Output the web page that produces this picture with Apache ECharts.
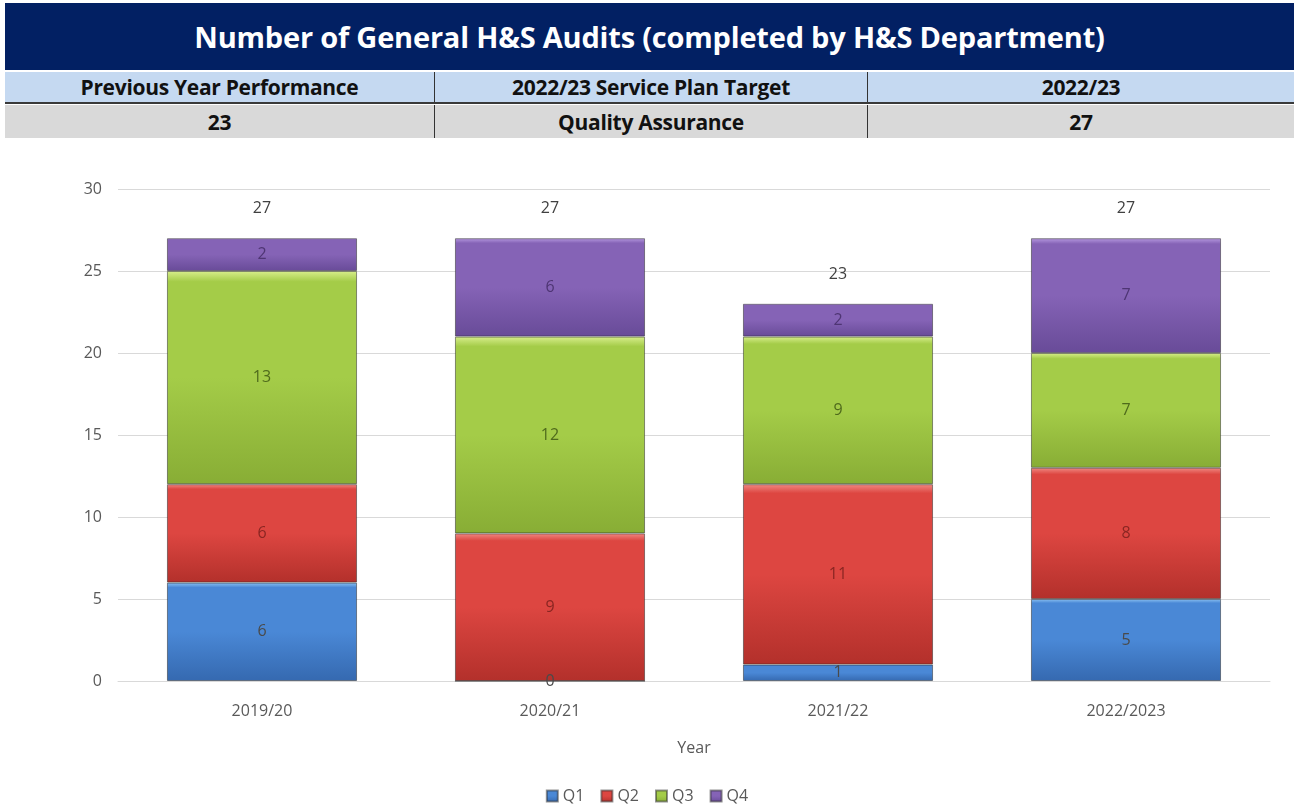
<!DOCTYPE html>
<html>
<head>
<meta charset="utf-8">
<script src="https://cdn.jsdelivr.net/npm/echarts@6/dist/echarts.min.js"></script>
<style>
  html, body { margin: 0; padding: 0; background: #fff; }
  #wrap { position: relative; width: 1294px; height: 809px; overflow: hidden; }
  #chart { position: absolute; left: 0; top: 0; width: 1294px; height: 809px; }
  .hdr { position: absolute; left: 5px; right: 0; font-family: "Open Sans", "Noto Sans", sans-serif; font-weight: 700; box-sizing: border-box; }
  #title { top: 3px; height: 67px; background: #022063; color: #fff; font-size: 29px; display: flex; align-items: center; justify-content: center; letter-spacing: -0.2px; }
  .row { display: flex; }
  .row div { display: flex; align-items: center; justify-content: center; font-size: 21px; color: #111; box-sizing: border-box; letter-spacing: -0.3px; }
  #row1 { top: 72px; height: 32px; background: #c5d9f1; border-bottom: 2px solid #3a3a3a; }
  #row2 { top: 105px; height: 33px; background: #d9d9d9; }
  .c1 { width: 430px; border-right: 1px solid #333; }
  .c2 { width: 433px; border-right: 1px solid #333; }
  .c3 { flex: 1; }
</style>
</head>
<body>
<div id="wrap">
  <div id="chart"></div>
  <div id="title" class="hdr">Number of General H&amp;S Audits (completed by H&amp;S Department)</div>
  <div id="row1" class="hdr row"><div class="c1">Previous Year Performance</div><div class="c2">2022/23 Service Plan Target</div><div class="c3">2022/23</div></div>
  <div id="row2" class="hdr row"><div class="c1">23</div><div class="c2">Quality Assurance</div><div class="c3">27</div></div>
</div>
<script>
// Audit counts per year, split by quarter
const years = ['2019/20', '2020/21', '2021/22', '2022/2023'];
const q1 = [6, 0, 1, 5];
const q2 = [6, 9, 11, 8];
const q3 = [13, 12, 9, 7];
const q4 = [2, 6, 2, 7];
const quarterNames = ['Q1', 'Q2', 'Q3', 'Q4'];
const yTicks = { min: 0, max: 30, interval: 5 };

// colour sets per quarter: [top highlight, upper, lower, label]
const palette = [
  ['#8cc2f2', '#4a88d6', '#3569b0', '#2a5490'],
  ['#f08a84', '#dd4641', '#b3302b', '#8a2622'],
  ['#d8ee8c', '#a4cc48', '#88ad35', '#4f6a1c'],
  ['#b79ae0', '#8563b6', '#684b98', '#4e3573']
];

const totals = years.map((_, i) => q1[i] + q2[i] + q3[i] + q4[i]);

// vertical bevel-like fill: light top rim, darker toward the base
function bevel(c) {
  return {
    type: 'linear', x: 0, y: 0, x2: 0, y2: 1,
    colorStops: [
      { offset: 0, color: c[0] },
      { offset: 0.05, color: c[1] },
      { offset: 0.5, color: c[1] },
      { offset: 1, color: c[2] }
    ]
  };
}

const seriesData = [q1, q2, q3, q4];
const series = seriesData.map((d, k) => ({
  name: quarterNames[k],
  type: 'bar',
  stack: 'total',
  barWidth: '66%',
  data: d,
  itemStyle: { color: bevel(palette[k]), borderColor: 'rgba(40,40,40,0.5)', borderWidth: 1 },
  label: {
    show: true, position: 'inside',
    color: d === q1 ? '#4a4a4a' : palette[k][3], fontSize: 16,
    fontFamily: '"Open Sans", sans-serif'
  },
  emphasis: { disabled: true }
}));

// totals above each stack
series.push({
  name: 'Total',
  type: 'line',
  data: totals,
  symbol: 'circle',
  symbolSize: 1,
  itemStyle: { color: 'rgba(0,0,0,0)' },
  lineStyle: { width: 0, opacity: 0 },
  label: {
    show: true, position: 'top', distance: 21,
    color: '#404040', fontSize: 16, fontFamily: '"Open Sans", sans-serif'
  },
  silent: true,
  z: 10
});

const chart = echarts.init(document.getElementById('chart'), null, { renderer: 'canvas' });
chart.setOption({
  animation: false,
  textStyle: { fontFamily: '"Open Sans", sans-serif' },
  grid: { left: 118, right: 24, top: 189, bottom: 128, containLabel: false },
  legend: {
    data: quarterNames,
    bottom: 0, left: 'center',
    itemWidth: 11, itemHeight: 11, itemGap: 16,
    icon: 'rect',
    textStyle: { color: '#595959', fontSize: 16 }
  },
  xAxis: {
    type: 'category',
    data: years,
    name: 'Year', nameLocation: 'middle', nameGap: 59,
    nameTextStyle: { color: '#595959', fontSize: 16 },
    axisLine: { lineStyle: { color: '#d9d9d9' } },
    axisTick: { show: false },
    axisLabel: { color: '#595959', fontSize: 16, margin: 22 }
  },
  yAxis: {
    type: 'value',
    min: yTicks.min, max: yTicks.max, interval: yTicks.interval,
    axisLine: { show: false },
    axisTick: { show: false },
    axisLabel: { color: '#595959', fontSize: 16, margin: 16 },
    splitLine: { lineStyle: { color: '#d9d9d9' } }
  },
  series: series
});
</script>
</body>
</html>
